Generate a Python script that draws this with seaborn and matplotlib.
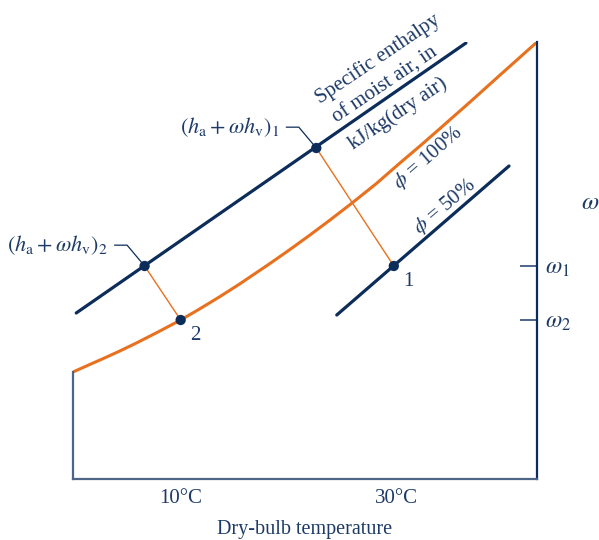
import matplotlib
matplotlib.use("Agg")
import matplotlib.pyplot as plt
import seaborn as sns
import pandas as pd

# saturation curve (phi = 100%): dry-bulb (°C) vs humidity ratio (arbitrary units)
sat_T = [0.0, 1.35, 2.74, 4.33, 5.91, 7.95, 10.0, 11.77, 13.63, 15.49, 18.28, 20.14,
         22.0, 23.95, 25.91, 28.14, 30.37, 32.23, 34.09, 36.88, 39.67, 41.44, 43.1]
sat_w = [10.7, 11.35, 12.01, 12.79, 13.61, 14.73, 15.9, 17.01, 18.23, 19.51, 21.54, 22.94,
         24.39, 25.96, 27.59, 29.51, 31.6, 33.3, 35.05, 37.7, 40.4, 42.1, 43.7]

# line of constant specific enthalpy
h_T = [0.3, 36.5]
h_w = [16.6, 43.6]

# phi = 50% line
rh50_T = [24.5, 40.5]
rh50_w = [16.4, 31.3]

# state points 1 and 2, and where they meet the enthalpy line
state_names = ["1", "2"]
state_T = [29.8, 10.0]
state_w = [21.3, 15.9]
hpt_T = [22.6, 6.65]
hpt_w = [33.1, 21.3]

xticks = [10, 30]
xtick_labels = ["10°C", "30°C"]

navy = "#0c2d5a"
txt = "#1d3a66"
orange = "#e8711f"
slate = "#4d6587"

sns.set_theme(style="white")
plt.rcParams["font.family"] = ["Liberation Serif", "DejaVu Serif"]
plt.rcParams["mathtext.fontset"] = "stix"

fig = plt.figure(figsize=(5.99, 5.40), dpi=100)
ax = fig.add_axes([73 / 599, 61 / 540, 464 / 599, 437 / 540])

# thin connectors between state points and enthalpy line
for i in range(2):
    sns.lineplot(x=[hpt_T[i], state_T[i]], y=[hpt_w[i], state_w[i]], sort=False,
                 estimator=None, color=orange, lw=1.0, ax=ax)

sns.lineplot(x=sat_T, y=sat_w, sort=False, estimator=None, color=orange, lw=2.2,
             solid_joinstyle="round", ax=ax)
sns.lineplot(x=h_T, y=h_w, sort=False, estimator=None, color=navy, lw=2.3, ax=ax)
sns.lineplot(x=rh50_T, y=rh50_w, sort=False, estimator=None, color=navy, lw=2.3, ax=ax)

pts = pd.DataFrame({"T": state_T + hpt_T, "w": state_w + hpt_w})
sns.scatterplot(data=pts, x="T", y="w", color=navy, s=55, edgecolor="none", zorder=5, ax=ax)

ax.set_xlim(0, 43.1)
ax.set_ylim(0, 43.7)

ax.spines["top"].set_visible(False)
ax.spines["left"].set_bounds(0, sat_w[0])
ax.spines["right"].set_bounds(0, sat_w[-1])
ax.spines["left"].set_color(slate)
ax.spines["bottom"].set_color(slate)
ax.spines["right"].set_color(navy)
for s in ["left", "bottom", "right"]:
    ax.spines[s].set_linewidth(1.6)

ax.set_xticks(xticks)
ax.set_xticklabels(xtick_labels)
ax.yaxis.tick_right()
ax.set_yticks([state_w[0], state_w[1]])
ax.set_yticklabels([r"$\omega_1$", r"$\omega_2$"])
ax.tick_params(axis="x", direction="in", length=11, width=1.4, color=slate,
               labelsize=15, labelcolor=txt, pad=7)
ax.tick_params(axis="y", direction="in", length=12, width=1.4, color=slate,
               labelsize=17, labelcolor=txt, pad=6, left=False, right=True)
ax.set_xlabel("Dry-bulb temperature", fontsize=14.5, color=txt, labelpad=9)
ax.set_ylabel("")

ax.text(1.095, 0.632, r"$\omega$", transform=ax.transAxes, fontsize=18, color=txt,
        ha="left", va="center", clip_on=False)

# state labels
for i, name in enumerate(state_names):
    ax.annotate(name, (state_T[i], state_w[i]), xytext=(7, -11), textcoords="offset points",
                fontsize=15, color=txt, ha="left", va="center")

# enthalpy labels with leaders
for i, name in enumerate(state_names):
    ax.annotate(r"$(h_{\rm a} + \omega h_{\rm v})_%s$" % name, (hpt_T[i], hpt_w[i]),
                xytext=(-27, 15), textcoords="offset points", fontsize=16, color=txt,
                ha="right", va="center",
                arrowprops=dict(arrowstyle="-", color=navy, lw=0.9, relpos=(1.0, 0.5),
                                shrinkA=3, shrinkB=0,
                                connectionstyle="angle,angleA=0,angleB=130,rad=0"))

# enthalpy caption: two lines above the line, one below
cap_lines = ["Specific enthalpy", "of moist air, in", "kJ/kg(dry air)"]
cap_T = [28.33, 28.98, 30.19]
cap_w = [42.0, 39.4, 36.5]
for s, tx, wy in zip(cap_lines, cap_T, cap_w):
    ax.text(tx, wy, s, fontsize=15, color=txt, rotation=34, rotation_mode="anchor",
            ha="center", va="center")

ax.text(33.0, 32.1, r"$\phi$ = 100%", fontsize=15, color=txt, rotation=41,
        rotation_mode="anchor", ha="center", va="center")
ax.text(34.5, 27.3, r"$\phi$ = 50%", fontsize=15, color=txt, rotation=40,
        rotation_mode="anchor", ha="center", va="center")

fig.savefig("out.png", dpi=100)
